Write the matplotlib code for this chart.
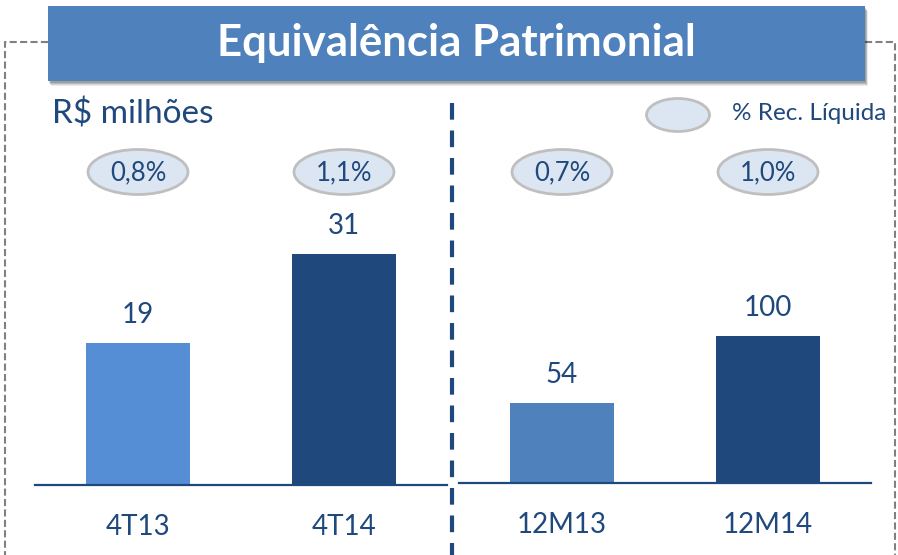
"""Equivalência Patrimonial - bar chart recreation."""

import matplotlib
matplotlib.use('Agg')
import matplotlib.pyplot as plt
from matplotlib.patches import Rectangle, Ellipse

# <------------------------------ Data ------------------------------------->
periods_quarter = ['4T13', '4T14']
values_quarter = [19, 31]
pct_quarter = ['0,8%', '1,1%']

periods_year = ['12M13', '12M14']
values_year = [54, 100]
pct_year = ['0,7%', '1,0%']

title = 'Equivalência Patrimonial'
unit_label = 'R$ milhões'
legend_label = '% Rec. Líquida'

# <------------------------------ Style ------------------------------------>
DARK = '#1F497D'
MID = '#4F81BD'
LIGHT = '#558ED5'
ELL_FILL = '#DCE6F2'
ELL_EDGE = '#BFBFBF'
W, H = 898, 555

plt.rcParams['font.family'] = ['Lato', 'DejaVu Sans']

fig = plt.figure(figsize=(W / 100, H / 100), dpi=100)

# background axes in pixel coordinates (y down) for decorations
bg = fig.add_axes([0, 0, 1, 1])
bg.set_xlim(0, W)
bg.set_ylim(H, 0)
bg.axis('off')


def add_bar_axes(left, right, base, top, ymax):
    ax = fig.add_axes([left / W, (H - base) / H, (right - left) / W, (base - top) / H])
    ax.set_xlim(-0.5, 1.5)
    ax.set_ylim(0, ymax)
    ax.patch.set_alpha(0)
    for side in ['top', 'right', 'left']:
        ax.spines[side].set_visible(False)
    ax.spines['bottom'].set_color(DARK)
    ax.spines['bottom'].set_linewidth(1.6)
    ax.set_yticks([])
    ax.set_xticks([])
    return ax


ax_q = add_bar_axes(35, 447, 485, 100, 385 / 7.45)
ax_y = add_bar_axes(459, 871, 483, 100, 383 / 1.475)

panels = [
    (ax_q, periods_quarter, values_quarter, pct_quarter, [LIGHT, DARK]),
    (ax_y, periods_year, values_year, pct_year, [MID, DARK]),
]

for ax, cats, vals, pcts, colors in panels:
    xs = range(len(cats))
    ax.bar(xs, vals, width=0.505, color=colors, zorder=1)
    for x, v, cat, pct in zip(xs, vals, cats, pcts):
        ax.annotate(str(v), (x, v), xytext=(0, 28), textcoords='offset pixels',
                    ha='center', va='center', fontsize=20, color=DARK)
        ax.annotate(cat, (x, 0), xycoords=('data', 'axes fraction'),
                    xytext=(0, -42), textcoords='offset pixels',
                    ha='center', va='center', fontsize=20, color=DARK)
        # percent bubble, placed over the bar centre
        px = ax.transData.transform((x, 0))[0]
        bg.add_patch(Ellipse((px, 172), 100, 45, facecolor=ELL_FILL,
                             edgecolor=ELL_EDGE, lw=2))
        bg.text(px, 173, pct, ha='center', va='center', fontsize=18.5, color=DARK)

# title box with soft shadow
for off, a in [(5, 0.08), (4, 0.1), (3, 0.12), (2, 0.15)]:
    bg.add_patch(Rectangle((48 + off / 2, 6 + off), 817, 75, facecolor='black',
                           edgecolor='none', alpha=a))
bg.add_patch(Rectangle((48, 6), 817, 75, facecolor=MID, edgecolor='none'))
bg.text(456, 43, title, ha='center', va='center', fontsize=31.5,
        fontweight='bold', color='white')

# grey dashed frame
frame = dict(color='#808080', lw=1.5, ls=(0, (3.4, 1.6)), zorder=0)
bg.plot([48, 5, 5], [42, 42, H], **frame)
bg.plot([865, 895, 895], [42, 42, H], **frame)

# dashed divider between panels
bg.plot([452, 452], [103, H], color=DARK, lw=3, ls=(0, (4, 2.6)))

# unit text and legend
bg.text(52, 114, unit_label, ha='left', va='center', fontsize=24, color=DARK)
bg.add_patch(Ellipse((678, 115), 63, 33, facecolor=ELL_FILL, edgecolor=ELL_EDGE, lw=2))
bg.text(732, 114, legend_label, ha='left', va='center', fontsize=17.5, color=DARK)

fig.savefig('out.png', dpi=100)
